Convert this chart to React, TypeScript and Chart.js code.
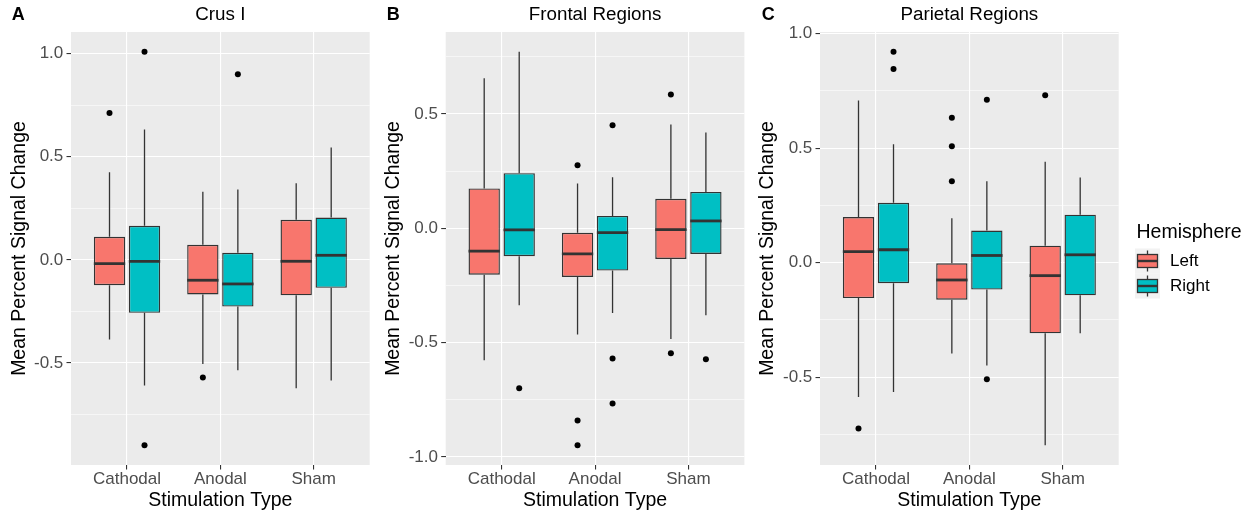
import React, { useEffect, useRef } from 'react';
import { Chart, registerables } from 'chart.js';

Chart.register(...registerables);

const FONT = '"Liberation Sans", Arial, Helvetica, sans-serif';

const categories = ['Cathodal', 'Anodal', 'Sham'];
const hemispheres = ['Left', 'Right'];
const hemisphereColors = ['#F8766D', '#00BFC4'];
const legendTitle = 'Hemisphere';
const xAxisTitle = 'Stimulation Type';
const yAxisTitle = 'Mean Percent Signal Change';

// Box statistics per category: [lower whisker, Q1, median, Q3, upper whisker]
const crusLeftStats = [
  [-0.387, -0.123, -0.018, 0.112, 0.425],
  [-0.505, -0.168, -0.099, 0.073, 0.33],
  [-0.623, -0.172, -0.007, 0.194, 0.372],
];
const crusRightStats = [
  [-0.61, -0.257, -0.007, 0.165, 0.633],
  [-0.536, -0.227, -0.117, 0.034, 0.341],
  [-0.586, -0.136, 0.022, 0.205, 0.545],
];
const crusLeftOutliers = [[0.712], [-0.571], []];
const crusRightOutliers = [[1.01, -0.9], [0.9], []];

const frontalLeftStats = [
  [-0.577, -0.203, -0.1, 0.174, 0.656],
  [-0.465, -0.213, -0.112, -0.02, 0.196],
  [-0.484, -0.134, -0.006, 0.129, 0.454],
];
const frontalRightStats = [
  [-0.337, -0.122, -0.007, 0.241, 0.772],
  [-0.37, -0.185, -0.019, 0.054, 0.223],
  [-0.38, -0.112, 0.032, 0.159, 0.419],
];
const frontalLeftOutliers = [[], [0.276, -0.84, -0.949], [0.585, -0.547]];
const frontalRightOutliers = [[-0.7], [0.45, -0.569, -0.766], [-0.573]];

const parietalLeftStats = [
  [-0.587, -0.155, 0.048, 0.199, 0.708],
  [-0.397, -0.162, -0.076, -0.003, 0.194],
  [-0.798, -0.309, -0.057, 0.074, 0.44],
];
const parietalRightStats = [
  [-0.565, -0.09, 0.056, 0.261, 0.517],
  [-0.449, -0.118, 0.031, 0.14, 0.355],
  [-0.309, -0.143, 0.034, 0.209, 0.372],
];
const parietalLeftOutliers = [[-0.725], [0.632, 0.508, 0.355], [0.731]];
const parietalRightOutliers = [[0.921, 0.845], [0.711, -0.509], []];

type Panel = {
  letter: string;
  title: string;
  stats: number[][][];
  outliers: number[][][];
  left: number;
  width: number;
  yAxisWidth: number;
  plotWidth: number;
  yTitlePad: number;
  legend: boolean;
};

const panels: Panel[] = [
  {
    letter: 'A', title: 'Crus I',
    stats: [crusLeftStats, crusRightStats], outliers: [crusLeftOutliers, crusRightOutliers],
    left: 0, width: 375, yAxisWidth: 71, plotWidth: 298.7, yTitlePad: 7.5, legend: false,
  },
  {
    letter: 'B', title: 'Frontal Regions',
    stats: [frontalLeftStats, frontalRightStats], outliers: [frontalLeftOutliers, frontalRightOutliers],
    left: 375, width: 375, yAxisWidth: 70.7, plotWidth: 298.7, yTitlePad: 6.6, legend: false,
  },
  {
    letter: 'C', title: 'Parietal Regions',
    stats: [parietalLeftStats, parietalRightStats], outliers: [parietalLeftOutliers, parietalRightOutliers],
    left: 750, width: 499, yAxisWidth: 70, plotWidth: 298.7, yTitlePad: 6.3, legend: true,
  },
];

const isMajor = (v: number) => Math.abs(v * 2 - Math.round(v * 2)) < 1e-9;

function yRange(p: Panel) {
  const all: number[] = [];
  p.stats.forEach((s) => s.forEach((b) => all.push(...b)));
  p.outliers.forEach((s) => s.forEach((o) => all.push(...o)));
  const lo = Math.min(...all);
  const hi = Math.max(...all);
  const pad = (hi - lo) * 0.05;
  return { min: lo - pad, max: hi + pad };
}

function makePlugin(p: Panel) {
  return {
    id: 'boxExtras' + p.letter,
    beforeDraw(chart: any) {
      const { ctx, chartArea: a } = chart;
      ctx.save();
      ctx.fillStyle = '#EBEBEB';
      ctx.fillRect(a.left, a.top, a.right - a.left, a.bottom - a.top);
      ctx.restore();
    },
    beforeDatasetsDraw(chart: any) {
      const ctx = chart.ctx;
      const ys = chart.scales.y;
      ctx.save();
      ctx.strokeStyle = '#333333';
      ctx.lineWidth = 1.3;
      p.stats.forEach((series, hi) => {
        const meta = chart.getDatasetMeta(hi);
        series.forEach((s, i) => {
          const bar = meta.data[i];
          ctx.beginPath();
          ctx.moveTo(bar.x, ys.getPixelForValue(s[0]));
          ctx.lineTo(bar.x, ys.getPixelForValue(s[1]));
          ctx.moveTo(bar.x, ys.getPixelForValue(s[3]));
          ctx.lineTo(bar.x, ys.getPixelForValue(s[4]));
          ctx.stroke();
        });
      });
      ctx.restore();
    },
    afterDatasetsDraw(chart: any) {
      const ctx = chart.ctx;
      const ys = chart.scales.y;
      ctx.save();
      p.stats.forEach((series, hi) => {
        const meta = chart.getDatasetMeta(hi);
        series.forEach((s, i) => {
          const bar = meta.data[i];
          const w = bar.width;
          ctx.strokeStyle = '#333333';
          ctx.lineWidth = 2.8;
          ctx.beginPath();
          const my = ys.getPixelForValue(s[2]);
          ctx.moveTo(bar.x - w / 2, my);
          ctx.lineTo(bar.x + w / 2, my);
          ctx.stroke();
          ctx.fillStyle = '#000000';
          p.outliers[hi][i].forEach((o) => {
            ctx.beginPath();
            ctx.arc(bar.x, ys.getPixelForValue(o), 3, 0, Math.PI * 2);
            ctx.fill();
          });
        });
      });
      ctx.restore();
    },
    afterDraw(chart: any) {
      const ctx = chart.ctx;
      const a = chart.chartArea;
      ctx.save();
      ctx.fillStyle = '#000000';
      ctx.textBaseline = 'middle';
      ctx.textAlign = 'left';
      ctx.font = `bold 18px ${FONT}`;
      ctx.fillText(p.letter, 11.8, 15);
      ctx.textAlign = 'center';
      ctx.font = `18.8px ${FONT}`;
      ctx.fillText(p.title, (a.left + a.right) / 2, 15);
      if (p.legend) {
        const lx = a.right + 16.3;
        ctx.textAlign = 'left';
        ctx.font = `19.5px ${FONT}`;
        ctx.fillText(legendTitle, lx + 1.5, 232.5);
        const keySize = 25;
        const top0 = 248.5;
        hemispheres.forEach((h, k) => {
          const ky = top0 + k * keySize;
          ctx.fillStyle = '#F2F2F2';
          ctx.fillRect(lx, ky, keySize, keySize);
          const cx = lx + keySize / 2;
          ctx.strokeStyle = '#333333';
          ctx.lineWidth = 1.3;
          ctx.beginPath();
          ctx.moveTo(cx, ky + 2);
          ctx.lineTo(cx, ky + keySize - 2);
          ctx.stroke();
          ctx.fillStyle = hemisphereColors[k];
          ctx.fillRect(lx + 2.5, ky + 6, keySize - 5, keySize - 12);
          ctx.strokeRect(lx + 2.5, ky + 6, keySize - 5, keySize - 12);
          ctx.lineWidth = 2.4;
          ctx.beginPath();
          ctx.moveTo(lx + 2.5, ky + keySize / 2);
          ctx.lineTo(lx + keySize - 2.5, ky + keySize / 2);
          ctx.stroke();
          ctx.fillStyle = '#000000';
          ctx.font = `17px ${FONT}`;
          ctx.fillText(h, lx + 35, ky + keySize / 2);
        });
      }
      ctx.restore();
    },
  };
}

function buildConfig(p: Panel): any {
  const { min, max } = yRange(p);
  const yTicks: number[] = [];
  for (let k = Math.ceil(min / 0.25); k <= Math.floor(max / 0.25); k++) yTicks.push(k * 0.25);
  const xTicks = categories.map((_, i) => i + 1);
  return {
    type: 'bar',
    data: {
      datasets: hemispheres.map((h, hi) => ({
        label: h,
        data: p.stats[hi].map((s, i) => ({ x: i + 1, y: [s[1], s[3]] })),
        backgroundColor: hemisphereColors[hi],
        borderColor: '#333333',
        borderWidth: 1.4,
        borderSkipped: false,
        categoryPercentage: 0.75,
        barPercentage: 0.895,
      })),
    },
    options: {
      responsive: false,
      maintainAspectRatio: false,
      devicePixelRatio: 1,
      animation: false,
      events: [],
      layout: {
        padding: { left: 0, top: 32, right: p.width - p.yAxisWidth - p.plotWidth, bottom: 0 },
      },
      plugins: { legend: { display: false }, tooltip: { enabled: false }, title: { display: false } },
      scales: {
        x: {
          type: 'linear',
          min: 0.4,
          max: 3.6,
          offset: false,
          afterBuildTicks: (scale: any) => {
            scale.ticks = xTicks.map((v) => ({ value: v }));
          },
          afterFit: (scale: any) => {
            scale.height = 47;
          },
          grid: {
            offset: false,
            color: '#FFFFFF',
            lineWidth: 1.1,
            drawTicks: true,
            tickLength: 4.5,
            tickColor: '#333333',
            tickWidth: 1.1,
          },
          border: { display: false },
          ticks: {
            autoSkip: false,
            maxRotation: 0,
            padding: 1.2,
            color: '#4D4D4D',
            font: { family: FONT, size: 17, lineHeight: 1 },
            callback: (v: number) => categories[Math.round(v) - 1],
          },
          title: {
            display: true,
            text: xAxisTitle,
            color: '#000000',
            font: { family: FONT, size: 19.5, lineHeight: 1.2 },
            padding: { top: 0, bottom: 0 },
          },
        },
        y: {
          type: 'linear',
          min,
          max,
          beginAtZero: false,
          afterBuildTicks: (scale: any) => {
            scale.ticks = yTicks.map((v) => ({ value: v }));
          },
          afterFit: (scale: any) => {
            scale.width = p.yAxisWidth;
          },
          grid: {
            color: '#FFFFFF',
            lineWidth: (ctx: any) => (ctx.tick && isMajor(ctx.tick.value) ? 1.1 : 0.55),
            drawTicks: true,
            tickLength: 4.5,
            tickColor: (ctx: any) => (ctx.tick && isMajor(ctx.tick.value) ? '#333333' : 'rgba(0,0,0,0)'),
            tickWidth: 1.1,
          },
          border: { display: false },
          ticks: {
            padding: 3.2,
            color: '#4D4D4D',
            font: { family: FONT, size: 17, lineHeight: 1 },
            callback: (v: number) => (isMajor(v) ? v.toFixed(1) : ''),
          },
          title: {
            display: true,
            text: yAxisTitle,
            color: '#000000',
            font: { family: FONT, size: 19.5, lineHeight: 1.2 },
            padding: { top: p.yTitlePad, bottom: 0 },
          },
        },
      },
    },
    plugins: [makePlugin(p)],
  };
}

function PanelChart({ panel }: { panel: Panel }) {
  const ref = useRef<HTMLCanvasElement>(null);
  useEffect(() => {
    const chart = new Chart(ref.current as HTMLCanvasElement, buildConfig(panel));
    return () => chart.destroy();
  }, [panel]);
  return (
    <canvas
      ref={ref}
      width={panel.width}
      height={512}
      style={{ position: 'absolute', left: panel.left, top: 0, width: panel.width, height: 512 }}
    />
  );
}

export default function App() {
  return (
    <div
      style={{
        position: 'fixed',
        left: 0,
        top: 0,
        width: 1249,
        height: 512,
        background: '#FFFFFF',
        overflow: 'hidden',
      }}
    >
      {panels.map((p) => (
        <PanelChart key={p.letter} panel={p} />
      ))}
    </div>
  );
}
